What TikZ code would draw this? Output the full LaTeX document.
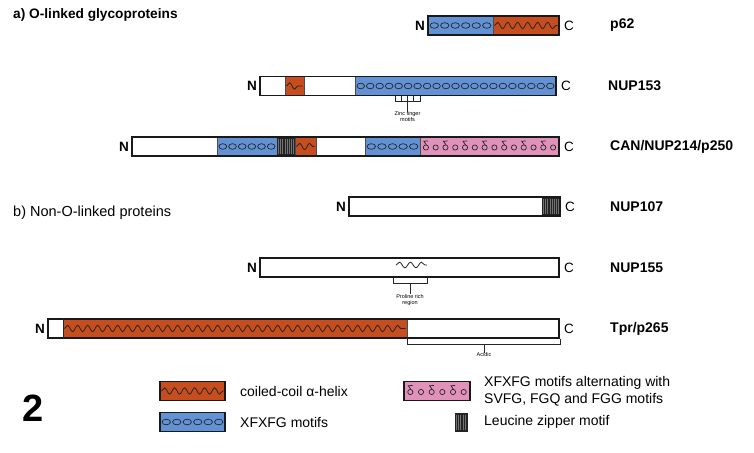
\documentclass[tikz,border=0pt]{standalone}
\usepackage{fontspec}
\setmainfont{Liberation Sans}
\usetikzlibrary{decorations.pathmorphing}

\definecolor{coilorange}{RGB}{198,78,30}
\definecolor{xfblue}{RGB}{98,145,212}
\definecolor{fgpink}{RGB}{224,146,186}
\definecolor{zipdark}{RGB}{35,35,35}

% segment macros: #1 = left, #2 = right, #3 = row centre (pixels, y down)
\newcommand{\coilseg}[3]{%
  \filldraw[coilorange,draw=black!70,line width=0.4pt] (#1,#3-9.5) rectangle (#2,#3+9.5);
  \draw[coilwave] (#1+1.5,#3) -- (#2-1.5,#3);}
\newcommand{\xfseg}[3]{%
  \filldraw[xfblue,draw=black!70,line width=0.4pt] (#1,#3-9.5) rectangle (#2,#3+9.5);
  \pgfmathtruncatemacro{\nov}{(#2-#1)/9.5}
  \pgfmathsetmacro{\dov}{(#2-#1-2)/\nov}
  \foreach \i in {1,...,\nov}{
    \draw[motif] ({#1+1+(\i-0.5)*\dov},#3) ellipse [x radius={0.4*\dov pt}, y radius=2.8pt];
  }}
\newcommand{\fgseg}[3]{%
  \filldraw[fgpink,draw=black!70,line width=0.4pt] (#1,#3-9.5) rectangle (#2,#3+9.5);
  \pgfmathtruncatemacro{\nov}{(#2-#1)/9.5}
  \pgfmathsetmacro{\dov}{(#2-#1-2)/\nov}
  \foreach \i in {1,...,\nov}{
    \pgfmathsetmacro{\cx}{#1+1+(\i-0.5)*\dov}
    \draw[motif] (\cx,#3+1) circle [radius=2.6pt];
    \pgfmathtruncatemacro{\odd}{mod(\i,2)}
    \ifnum\odd=1 \draw[motif] (\cx+0.5,#3-1.6) -- (\cx-2,#3-5.2) -- (\cx+2.2,#3-5.6); \fi
  }}
\newcommand{\zipseg}[3]{%
  \fill[zipdark] (#1,#3-9.5) rectangle (#2,#3+9.5);
  \pgfmathtruncatemacro{\nst}{(#2-#1)/2.2}
  \foreach \i in {1,...,\nst}{
    \draw[black!55,line width=0.3pt] ({#1+(\i-0.5)*2.2},#3-7.5) -- ({#1+(\i-0.5)*2.2},#3+7.5);
  }}
\newcommand{\protbox}[3]{%
  \draw[outline] (#1,#3-9.5) rectangle (#2,#3+9.5);}

\begin{document}
\begin{tikzpicture}[x=1pt,y=-1pt,
  outline/.style={draw=black!90,line width=1.1pt},
  motif/.style={draw=black!85,line width=0.7pt},
  coilwave/.style={draw=black!85,line width=0.8pt,decorate,
    decoration={snake,amplitude=3.2pt,segment length=10pt}},
  nend/.style={font=\fontsize{13.5}{15}\selectfont\bfseries,anchor=east,inner sep=0pt},
  cend/.style={font=\fontsize{13.5}{15}\selectfont,anchor=west,inner sep=0pt},
  protname/.style={font=\fontsize{14}{16}\selectfont\bfseries,anchor=west,inner sep=0pt},
  section/.style={font=\fontsize{14.5}{16}\selectfont,anchor=west,inner sep=0pt},
  note/.style={font=\fontsize{5.5}{6}\selectfont,align=center,inner sep=0pt},
  legtext/.style={font=\fontsize{14}{17}\selectfont,anchor=west,inner sep=0pt,align=left}]
\useasboundingbox (0,0) rectangle (754,452);

% a) O-linked glycoproteins
\node[section,font=\fontsize{13.7}{15}\selectfont\bfseries] (seca) at (13,15) {a) O-linked glycoproteins};

% p62
\xfseg{428}{493}{25.5}
\coilseg{493}{559}{25.5}
\protbox{428}{559}{25.5}
\node[nend] (n62) at (425,25.5) {N};
\node[cend] (c62) at (564,25.5) {C};
\node[protname] (p62) at (610,25.5) {p62};

% NUP153
\coilseg{285}{304}{86}
\xfseg{355}{556}{86}
\protbox{260}{556}{86}
\node[nend] (n153) at (257,86) {N};
\node[cend] (c153) at (561,86) {C};
\node[protname] (nup153) at (608,86) {NUP153};
% zinc fingers
\draw[motif,line width=0.6pt] (395,95.5) -- (395,101) -- (420,101) -- (420,95.5);
\foreach \x in {401.3,407.5,413.7}{\draw[motif,line width=0.6pt] (\x,95.5) -- (\x,101);}
\coordinate (zf) at (407.5,101);
\node[note] (zfnote) at (407.5,117) {Zinc finger\\motifs};
\draw[motif,line width=0.6pt] (zf) -- (zfnote.north);

% CAN/NUP214/p250
\xfseg{217}{277}{146.5}
\zipseg{277}{295}{146.5}
\coilseg{295}{316}{146.5}
\xfseg{365}{420}{146.5}
\fgseg{420}{559}{146.5}
\protbox{132}{559}{146.5}
\node[nend] (n214) at (129,146.5) {N};
\node[cend] (c214) at (564,146.5) {C};
\node[protname] (nup214) at (610,146.5) {CAN/NUP214/p250};

% b) Non-O-linked proteins
\node[section] (secb) at (13,213) {b) Non-O-linked proteins};

% NUP107
\zipseg{542}{560}{206.5}
\protbox{349}{560}{206.5}
\node[nend] (n107) at (346,206.5) {N};
\node[cend] (c107) at (565,206.5) {C};
\node[protname] (nup107) at (610,206.5) {NUP107};

% NUP155
\protbox{260}{559}{267.5}
\draw[coilwave,decoration={snake,amplitude=2.8pt,segment length=11pt}] (396,265) -- (427,265);
\node[nend] (n155) at (257,267.5) {N};
\node[cend] (c155) at (564,267.5) {C};
\node[protname] (nup155) at (610,267.5) {NUP155};
% proline rich region
\draw[motif,line width=0.6pt] (393,277.5) -- (393,283) -- (427,283) -- (427,277.5);
\coordinate (pr) at (410,283);
\node[note] (prnote) at (410,300) {Proline rich\\region};
\draw[motif,line width=0.6pt] (pr) -- (prnote.north);

% Tpr/p265
\coilseg{63}{407}{328.5}
\protbox{48}{559}{328.5}
\draw[motif] (63,319) -- (63,338);
\node[nend] (ntpr) at (45,328.5) {N};
\node[cend] (ctpr) at (564,328.5) {C};
\node[protname] (tpr) at (610,328.5) {Tpr/p265};
% acidic region
\draw[motif,line width=0.6pt] (407,338.5) -- (407,344) -- (560,344) -- (560,338.5);
\coordinate (ac) at (484,344);
\node[note] (acnote) at (484,355) {Acidic};
\draw[motif,line width=0.6pt] (ac) -- (acnote.north);

% legend
\node[font=\fontsize{38}{38}\selectfont\bfseries,inner sep=0pt] (fignum) at (33,408) {2};
\coilseg{160}{225}{391}
\protbox{160}{225}{391}
\node[legtext] (lcoil) at (240,391) {coiled-coil α-helix};
\xfseg{160}{225}{422}
\protbox{160}{225}{422}
\node[legtext] (lxf) at (240,422) {XFXFG motifs};
\fgseg{404}{470}{391}
\protbox{404}{470}{391}
\node[legtext] (lfg) at (484,391) {XFXFG motifs alternating with\\SVFG, FGQ and FGG motifs};
\zipseg{455}{468}{422}
\node[legtext] (lzip) at (484,422) {Leucine zipper motif};
\end{tikzpicture}
\end{document}
